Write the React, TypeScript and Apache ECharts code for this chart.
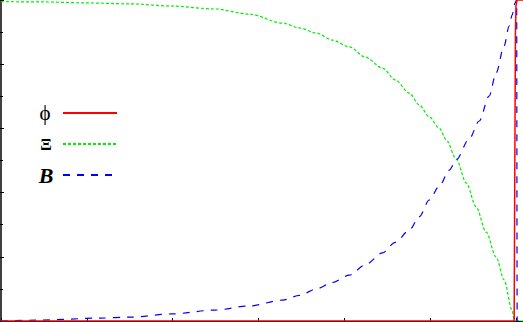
import React, { useEffect, useRef } from "react";
import * as echarts from "echarts";

// x in plot units (one major x tick = 1), y normalised 0..1
const phiX = [0, 5.977, 5.985, 5.992, 5.998, 6.01, 6.08];
const phiY = [0, 0, 0.5, 0.9, 0.98, 1, 1];

const xiX = [0, 0.488, 0.988, 1.5, 1.988, 2.488, 2.895, 3.279, 3.477, 3.674, 3.86, 4.058, 4.244, 4.442, 4.593, 4.756, 4.872, 4.988, 5.105, 5.186, 5.302, 5.419, 5.535, 5.651, 5.767, 5.86, 5.953, 5.977, 6.0, 6.08];
const xiY = [0.995, 0.994, 0.991, 0.988, 0.981, 0.972, 0.956, 0.928, 0.913, 0.897, 0.875, 0.854, 0.822, 0.788, 0.751, 0.71, 0.673, 0.636, 0.601, 0.564, 0.505, 0.43, 0.355, 0.277, 0.199, 0.128, 0.034, 0.003, 0, 0];

const bX = [0, 0.488, 1.151, 1.5, 1.988, 2.488, 2.895, 3.279, 3.477, 3.674, 3.86, 4.058, 4.244, 4.442, 4.593, 4.756, 4.872, 4.988, 5.105, 5.221, 5.302, 5.453, 5.57, 5.686, 5.767, 5.86, 5.919, 5.953, 5.988, 6.006, 6.012, 6.08];
const bY = [0, 0.003, 0.009, 0.012, 0.022, 0.034, 0.047, 0.065, 0.08, 0.1, 0.12, 0.143, 0.175, 0.212, 0.245, 0.283, 0.325, 0.377, 0.42, 0.47, 0.502, 0.567, 0.623, 0.701, 0.773, 0.857, 0.919, 0.953, 0.991, 1.0, 0, 0];

const seriesNames = ["ϕ", "Ξ", "B"];
const richKeys = ["phi", "xi", "bb"];

const zip = (xs: number[], ys: number[]) => xs.map((x, i) => [x, ys[i]]);

export default function App() {
  const ref = useRef<HTMLDivElement>(null);
  useEffect(() => {
    if (!ref.current) return;
    const chart = echarts.init(ref.current, undefined, { renderer: "svg" });
    const tickStyle = { color: "#000", width: 1 };
    const xBase = {
      type: "value" as const,
      min: 0,
      max: 6.08,
      interval: 1,
      axisLabel: { show: false },
      splitLine: { show: false },
      axisTick: { show: true, inside: true, length: 3, lineStyle: tickStyle },
    };
    const yBase = {
      type: "value" as const,
      min: 0,
      max: 1,
      interval: 0.2,
      axisLabel: { show: false },
      splitLine: { show: false },
      axisTick: { show: true, inside: true, length: 3, lineStyle: tickStyle },
      minorTick: { show: true, splitNumber: 2, length: 2, lineStyle: tickStyle },
    };
    chart.setOption({
      animation: false,
      backgroundColor: "#fff",
      grid: { left: 1, right: -1, top: 0, bottom: 1, containLabel: false },
      xAxis: [
        { ...xBase, position: "bottom", axisLine: { show: true, lineStyle: { color: "#000", width: 1 } } },
        { ...xBase, position: "top", axisLine: { show: false } },
      ],
      yAxis: [
        { ...yBase, position: "left", axisLine: { show: true, lineStyle: { color: "#000", width: 1.5 } } },
        { ...yBase, position: "right", axisLine: { show: false } },
      ],
      legend: {
        orient: "vertical",
        align: "right",
        left: 32,
        top: 101,
        itemWidth: 54,
        itemHeight: 14,
        itemGap: 7,
        padding: 0,
        itemStyle: { color: "rgba(0,0,0,0)", borderWidth: 0, opacity: 0 },
        data: seriesNames,
        formatter: (name: string) => `{${richKeys[seriesNames.indexOf(name)]}|${name}}`,
        textStyle: {
          color: "#000",
          rich: {
            phi: { fontFamily: "Liberation Serif", fontSize: 21, width: 26, align: "center", lineHeight: 24, height: 24, color: "#000" },
            xi: { fontFamily: "Liberation Serif", fontSize: 17, fontWeight: "bold", width: 24, align: "center", lineHeight: 24, height: 24, color: "#000" },
            bb: { fontFamily: "Liberation Serif", fontSize: 22, fontWeight: "bold", fontStyle: "italic", width: 24, align: "center", lineHeight: 24, height: 24, color: "#000" },
          },
        },
      },
      series: [
        {
          name: seriesNames[0],
          type: "line",
          data: zip(phiX, phiY),
          symbol: "none",
          clip: true,
          lineStyle: { color: "#ff0000", width: 1.5, type: "solid" },
          itemStyle: { color: "#ff0000" },
          z: 3,
        },
        {
          name: seriesNames[1],
          type: "line",
          data: zip(xiX, xiY),
          symbol: "none",
          clip: true,
          smooth: 0.3,
          smoothMonotone: "x",
          lineStyle: { color: "#00ee00", width: 1.2, type: [3, 2] },
          itemStyle: { color: "#00ee00" },
          z: 2,
        },
        {
          name: seriesNames[2],
          type: "line",
          data: zip(bX, bY),
          symbol: "none",
          clip: true,
          smooth: 0.3,
          smoothMonotone: "x",
          lineStyle: { color: "#0000ff", width: 1.2, type: [7, 7] },
          itemStyle: { color: "#0000ff" },
          z: 2,
        },
      ],
    });
    return () => chart.dispose();
  }, []);
  return <div ref={ref} style={{ width: 523, height: 322, position: "absolute", left: 0, top: 0 }} />;
}
